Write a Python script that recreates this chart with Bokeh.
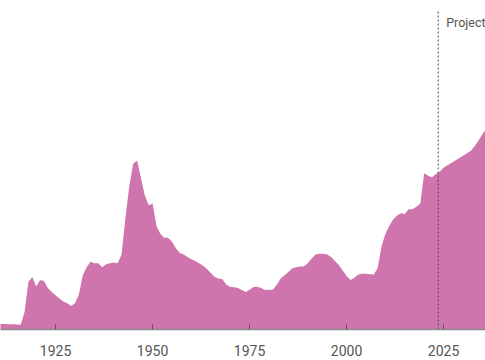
from bokeh.plotting import figure
from bokeh.models import Range1d, FixedTicker, ColumnDataSource
from bokeh.core.properties import value
from bokeh.embed import file_html
from bokeh.resources import INLINE

years = list(range(1910, 2037))
debt_pct_gdp = [
    3.5, 3.5, 3.4, 3.3, 3.3, 3.2, 3.0, 11.0, 30.0, 33.0,       # 1910-1919
    27.0, 31.0, 30.5, 26.0, 23.5, 21.5, 19.5, 17.5, 16.5, 14.7,  # 1920-1929
    16.5, 22.0, 34.0, 39.0, 42.5, 41.5, 41.5, 39.0, 41.0, 41.5,  # 1930-1939
    42.0, 41.5, 47.0, 70.0, 90.0, 104.0, 106.0, 95.0, 84.0, 78.0,  # 1940-1949
    79.0, 65.0, 60.0, 57.5, 57.5, 55.0, 51.0, 48.0, 47.0, 45.5,  # 1950-1959
    44.0, 43.0, 41.5, 40.0, 38.0, 35.5, 33.0, 32.0, 31.5, 28.0,  # 1960-1969
    26.8, 26.5, 26.0, 24.8, 23.5, 25.0, 26.6, 26.8, 26.0, 24.8,  # 1970-1979
    25.0, 25.0, 28.0, 32.0, 34.0, 36.0, 38.5, 39.0, 39.5, 39.5,  # 1980-1989
    41.5, 44.5, 47.0, 47.5, 47.5, 47.0, 45.5, 43.0, 40.5, 37.0,  # 1990-1999
    33.5, 31.0, 32.5, 34.5, 35.0, 35.0, 34.7, 34.5, 38.5, 52.0,  # 2000-2009
    60.0, 65.0, 69.0, 71.5, 73.0, 72.5, 75.5, 75.5, 77.0, 79.0,  # 2010-2019
    98.0, 96.5, 95.5, 97.5, 99.0, 101.5, 103.0, 104.5, 106.0, 107.5,  # 2020-2029
    109.0, 110.5, 112.0, 115.0, 118.5, 122.5, 126.0,             # 2030-2036
]
tick_years = [1925, 1950, 1975, 2000, 2025]
projection_year = 2023.6
projection_label = "Project"

src = ColumnDataSource(dict(x=years, y=debt_pct_gdp))

p = figure(
    frame_width=485, frame_height=329,
    x_range=Range1d(1910.8, 2035.8), y_range=Range1d(0, 206.4),
    output_backend="svg", toolbar_location=None,
    y_axis_location=None, min_border=0, min_border_bottom=31,
)
p.outline_line_color = None
p.xgrid.visible = False
p.ygrid.visible = False
p.background_fill_color = "white"
p.border_fill_color = "white"

p.varea(x="x", y1=0, y2="y", source=src, fill_color="#CF74AD", fill_alpha=1.0)

p.segment(x0=[projection_year], y0=[0], x1=[projection_year], y1=[200],
          line_color="#444444", line_width=1, line_dash="2 2")
p.text(x=[projection_year], y=[192.6], text=[projection_label], x_offset=8,
       text_font=value("Roboto"), text_font_size="12.5px", text_color="#555555",
       text_align="left", text_baseline="alphabetic")

ax = p.xaxis[0]
ax.ticker = FixedTicker(ticks=tick_years)
ax.major_tick_in = 5
ax.major_tick_out = 0
ax.minor_tick_line_color = None
ax.axis_line_color = "#8a8a8a"
ax.axis_line_width = 1.5
ax.major_tick_line_color = "#555555"
ax.major_label_text_font = "Roboto"
ax.major_label_text_font_size = "14px"
ax.major_label_text_color = "#555555"
ax.major_label_standoff = 15

open("out.html", "w").write(file_html(p, INLINE))
